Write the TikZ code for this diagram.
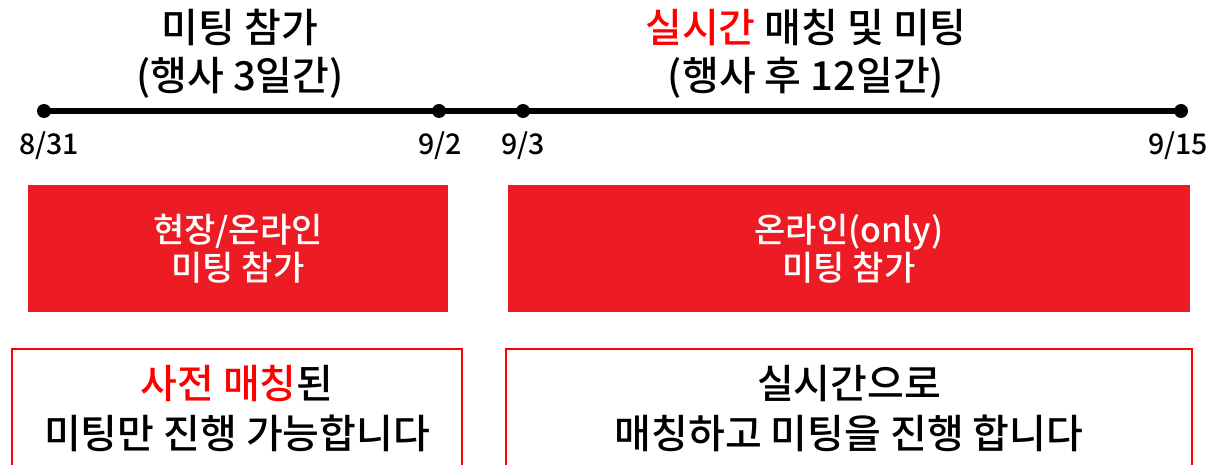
\documentclass[tikz,border=0pt]{standalone}
\usepackage{fontspec}
\setmainfont{Noto Sans CJK KR}[UprightFont={* Medium}]
\definecolor{boxred}{HTML}{ED1C24}
\definecolor{txtred}{HTML}{FF0000}
\tikzset{
  x=1pt, y=-1pt,
  dot/.style={circle, fill=black, inner sep=0pt, minimum size=14pt},
  datelbl/.style={font=\fontsize{28.5}{30}\selectfont, inner sep=0pt},
  title/.style={font=\fontsize{40}{48}\selectfont, align=center, inner sep=0pt},
  redbox/.style={fill=boxred, text=white, inner sep=0pt, align=center,
    font=\fontsize{34}{38}\selectfont},
  notebox/.style={draw=txtred, line width=1.5pt, fill=white, inner sep=0pt, align=center,
    font=\fontsize{40}{50}\selectfont}
}
\begin{document}
\begin{tikzpicture}
\useasboundingbox (0,0) rectangle (1215,465);
\clip (0,0) rectangle (1215,465);
% titles
\node[title] (t1) at (240,54) {미팅 참가\\(행사 3일간)};
\node[title] (t2) at (806,54) {\textcolor{txtred}{실시간} 매칭 및 미팅\\(행사 후 12일간)};
% timeline
\node[dot] (d1) at (44,111) {};
\node[dot] (d2) at (439,111) {};
\node[dot] (d3) at (523,111) {};
\node[dot] (d4) at (1181,111) {};
\draw[line width=6pt] (d1.center) -- (d2.center) -- (d3.center) -- (d4.center);
\node[datelbl] (l1) at (49,146) {8/31};
\node[datelbl] (l2) at (440,146) {9/2};
\node[datelbl] (l3) at (523,146) {9/3};
\node[datelbl] (l4) at (1178,146) {9/15};
% red boxes
\node[redbox, minimum width=420pt, minimum height=127pt] (r1) at (238,248.5) {현장/온라인\\미팅 참가};
\node[redbox, minimum width=682pt, minimum height=127pt] (r2) at (849,248.5) {온라인(only)\\미팅 참가};
% note boxes
\node[notebox, minimum width=450pt, minimum height=120pt] (n1) at (237,409) {\textcolor{txtred}{사전 매칭}된\\미팅만 진행 가능합니다};
\node[notebox, minimum width=686pt, minimum height=120pt] (n2) at (849,409) {실시간으로\\매칭하고 미팅을 진행 합니다};
\end{tikzpicture}
\end{document}
